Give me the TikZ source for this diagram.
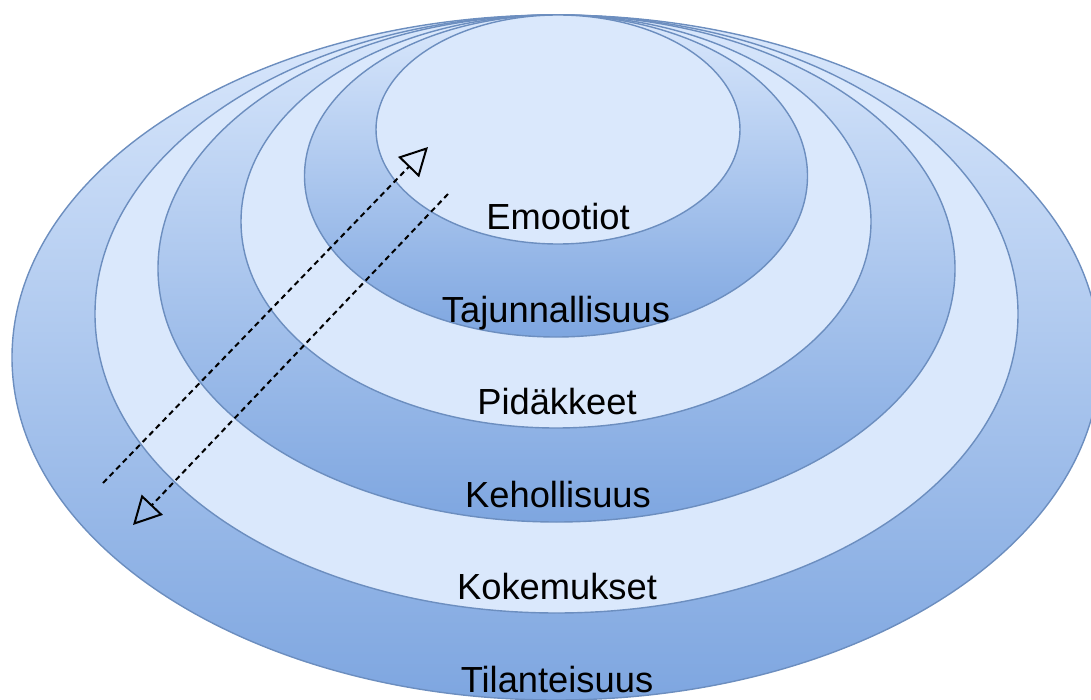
\documentclass[tikz,border=0pt]{standalone}
\usepackage{fontspec}
\setmainfont{Liberation Sans}
\usetikzlibrary{shapes.geometric,arrows.meta}
\definecolor{ringlight}{HTML}{DAE8FC}
\definecolor{ringdark}{HTML}{7EA6E0}
\definecolor{ringline}{HTML}{6C8EBF}

\begin{document}
\begin{tikzpicture}[x=1pt, y=-1pt, font=\fontsize{36.3}{43}\selectfont,
  layer/.style={ellipse, draw=ringline, line width=1.4pt, inner sep=0pt},
  darklayer/.style={layer, top color=ringlight, bottom color=ringdark},
  lightlayer/.style={layer, fill=ringlight},
  tag/.style={anchor=base, inner sep=0pt},
  flow/.style={line width=2pt, dash pattern=on 5.5pt off 4pt,
    -{Triangle[open, length=28pt, width=29pt]}}]
  \clip (0,0) rectangle (1091,700);
  % nested layers, outermost first
  \node[darklayer,  minimum width=1088pt, minimum height=685pt] (tilanteisuus)   at (556,357.5) {};
  \node[lightlayer, minimum width=923pt,  minimum height=598pt] (kokemukset)     at (556.5,314) {};
  \node[darklayer,  minimum width=797pt,  minimum height=507pt] (kehollisuus)    at (556.5,268.5) {};
  \node[lightlayer, minimum width=630pt,  minimum height=413pt] (pidakkeet)      at (556,221.5) {};
  \node[darklayer,  minimum width=503pt,  minimum height=322pt] (tajunnallisuus) at (556,176) {};
  \node[lightlayer, minimum width=364pt,  minimum height=229pt] (emootiot)       at (558,129.5) {};
  % layer names
  \node[tag] (t-emo) at (558,230) {Emootiot};
  \node[tag] (t-taj) at (556,323) {Tajunnallisuus};
  \node[tag] (t-pid) at (557,414) {Pidäkkeet};
  \node[tag] (t-keh) at (558,507) {Kehollisuus};
  \node[tag] (t-kok) at (557,599) {Kokemukset};
  \node[tag] (t-til) at (557,692) {Tilanteisuus};
  % inward and outward flow
  \coordinate (in-start)  at (103,483);
  \coordinate (in-end)    at (428,147);
  \coordinate (out-start) at (448,194);
  \coordinate (out-end)   at (133,525);
  \draw[flow] (in-start) -- (in-end);
  \draw[flow] (out-start) -- (out-end);
\end{tikzpicture}
\end{document}
